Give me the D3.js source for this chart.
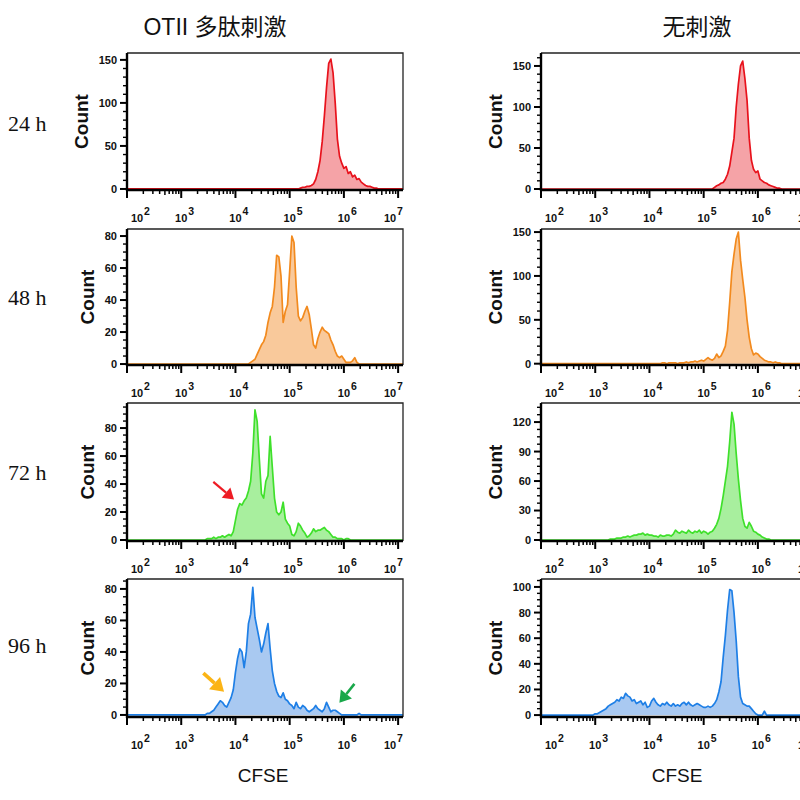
<!DOCTYPE html>
<html><head><meta charset="utf-8">
<script src="https://cdn.jsdelivr.net/npm/d3@7"></script>
<style>body{margin:0;background:#fff}</style>
</head><body><svg id="c" width="800" height="800"></svg>
<script>
// ---------------- DATA ----------------
const columnTitles = ["OTII 多肽刺激", "无刺激"];
const rowLabels = ["24 h", "48 h", "72 h", "96 h"];
const xTickExps = [2, 3, 4, 5, 6, 7];
const xAxisLabel = "CFSE";
const yAxisLabel = "Count";
const BIN = 0.04; // histogram bin width in decades

// left column (OTII peptide) : first bin exponent and counts per bin
const l24Start = 5.16;
const l24 = [0,1,2,2,3,3,4,6,11,20,33,55,85,118,146,151,135,100,58,38,30,24,26,18,20,14,16,11,12,8,6,4,3,3,2,1,1,0];
const l48Start = 4.24;
const l48 = [0,1,2,3,6,9,12,14,18,26,32,36,48,68,67,55,26,33,37,58,80,76,48,30,27,29,33,36,31,22,12,10,16,20,23,21,20,19,15,12,8,5,4,5,3,1,1,1,2,4,1,0];
const l72Start = 3.40;
const l72 = [0,0,1,1,1,2,1,2,2,3,2,3,4,3,6,14,22,26,25,28,30,35,42,62,93,85,58,33,30,42,46,74,52,30,20,18,20,27,15,12,10,4,3,6,12,10,7,5,2,3,5,8,6,7,7,8,9,7,6,4,2,2,1,1,1,0,1,1,0];
const l96Start = 3.44;
const l96 = [0,1,1,2,3,5,7,9,8,6,5,8,11,16,27,36,42,40,30,40,58,64,81,62,55,48,40,45,52,58,42,28,20,15,12,11,14,10,9,7,6,4,8,5,4,6,5,3,2,3,4,6,4,3,2,4,8,5,2,3,3,2,1,0,0,0,0,0,0,0,0,1,0];

// right column (no stimulation)
const r24Start = 5.16;
const r24 = [0,2,4,5,7,8,12,18,28,45,62,100,128,150,156,135,108,62,35,24,20,22,12,10,8,7,5,4,3,2,1,1,0];
const r48Start = 4.20;
const r48 = [0,1,1,0,1,1,1,1,0,1,1,1,2,1,2,2,3,2,3,4,3,5,7,5,4,6,11,7,9,14,20,38,70,105,125,142,150,118,96,76,50,30,17,10,12,11,8,6,4,3,2,2,1,2,1,1,0];
const r72Start = 3.24;
const r72 = [0,1,1,1,2,2,2,3,3,4,3,4,5,5,6,6,7,5,6,5,5,4,4,3,5,4,4,5,5,4,6,10,8,7,9,8,7,10,8,7,9,8,10,7,9,8,6,8,9,12,16,22,32,45,60,75,100,130,118,88,62,40,22,14,12,18,14,9,8,6,5,3,2,1,1,0];
const r96Start = 2.96;
const r96 = [0,1,1,2,3,4,5,7,8,9,10,12,11,14,13,17,15,14,11,12,9,10,11,8,10,6,7,11,13,10,8,7,9,8,10,8,7,9,7,8,7,9,10,8,10,8,7,8,9,8,7,6,6,7,6,7,9,12,18,26,45,62,82,98,97,80,58,30,14,9,8,7,7,5,3,1,0,0,0,3,0];

// y-axis ranges / ticks per panel (rows 24h..96h)
const leftYMax  = [158, 84.4, 97.9, 86.3];
const leftYMin  = [-1.2, -0.6, -0.7, -1.3];
const leftYStep = [50, 20, 20, 20];
const leftYMinorN = [5, 4, 4, 4];
const rightYMax = [165.8, 153.5, 139.4, 106.2];
const rightYMin = [-1.2, -1.5, -1, -1.5];
const rightYStep = [50, 50, 30, 20];
const rightYMinorN = [5, 5, 4, 4];

// arrows: [row, col, tailExp, tailCount, tipExp, tipCount, colour, width]
const arrows = [
  [2, 0, 3.592, 41.6, 3.974, 29.0, "#ee1c24", 2.2],
  [3, 0, 3.408, 26.5, 3.790, 14.8, "#fbb416", 3.6],
  [3, 0, 6.194, 19.7, 5.917, 7.8, "#19a84a", 2.6]
];

const palette = [
  {stroke: "#e8121c", fill: "#f5a3a7"},
  {stroke: "#f28a1e", fill: "#f9c99b"},
  {stroke: "#3fe02b", fill: "#a8ef9e"},
  {stroke: "#1e7fe6", fill: "#a9c9f1"}
];

// ---------------- LAYOUT ----------------
const colX = [127, 541];
const plotW = 276;
const rowTop = [53, 229, 403, 579];
const rowBottom = [190, 365, 541, 717];
const countX = [[81, 87, 87, 87], [495, 495, 495, 495]];
const SANS = "'Liberation Sans', Arial, Helvetica, sans-serif";
const SERIF = "'Liberation Serif', 'Times New Roman', serif";
const CJK = "'Liberation Sans', 'Noto Sans CJK SC', sans-serif";

const svg = d3.select("#c");
const series = [[[l24Start,l24],[l48Start,l48],[l72Start,l72],[l96Start,l96]],
                [[r24Start,r24],[r48Start,r48],[r72Start,r72],[r96Start,r96]]];
const yMaxes = [leftYMax, rightYMax], yMins = [leftYMin, rightYMin],
      ySteps = [leftYStep, rightYStep], yMinorNs = [leftYMinorN, rightYMinorN];
const scales = {};

for (let c = 0; c < 2; c++) {
  for (let r = 0; r < 4; r++) {
    const x0 = colX[c], top = rowTop[r], bottom = rowBottom[r];
    const x = d3.scaleLog().domain([1e2, Math.pow(10, 7.09)]).range([x0, x0 + plotW]);
    const y = d3.scaleLinear().domain([yMins[c][r], yMaxes[c][r]]).range([bottom, top]);
    scales[r + "_" + c] = {x, y};
    const g = svg.append("g");
    const clipId = "clip" + r + "_" + c;
    g.append("clipPath").attr("id", clipId).append("rect")
      .attr("x", x0).attr("y", top).attr("width", plotW).attr("height", bottom - top);

    const [start, counts] = series[c][r];
    const pts = [[2, 0]].concat(counts.map((v, i) => [start + i * BIN, v])).concat([[7.09, 0]]);
    const pal = palette[r];
    const gp = g.append("g").attr("clip-path", `url(#${clipId})`);
    gp.append("path").datum(pts)
      .attr("d", d3.area().x(d => x(Math.pow(10, d[0]))).y0(y(0)).y1(d => y(d[1])))
      .attr("fill", pal.fill);
    gp.append("path").datum(pts)
      .attr("d", d3.line().x(d => x(Math.pow(10, d[0]))).y(d => y(d[1])))
      .attr("fill", "none").attr("stroke", pal.stroke).attr("stroke-width", 1.7)
      .attr("stroke-linejoin", "round");

    // frame top/right
    g.append("path").attr("d", `M${x0},${top}H${x0 + plotW}V${bottom}`)
      .attr("fill", "none").attr("stroke", "#222").attr("stroke-width", 1.3);

    // x axis minor/major ticks
    const ticks = g.append("g");
    for (let e = 2; e <= 7; e++) {
      ticks.append("line").attr("x1", x(Math.pow(10, e))).attr("x2", x(Math.pow(10, e)))
        .attr("y1", bottom).attr("y2", bottom + 8).attr("stroke", "#000").attr("stroke-width", 2);
      if (e < 7) for (let m = 2; m <= 9; m++) {
        const xv = x(m * Math.pow(10, e));
        ticks.append("line").attr("x1", xv).attr("x2", xv)
          .attr("y1", bottom).attr("y2", bottom + (m === 5 ? 5 : 4)).attr("stroke", "#000").attr("stroke-width", 1.5);
      }
    }
    // x tick labels 10^n
    xTickExps.forEach(e => {
      const tx = Math.max(x0 + 10, Math.min(x0 + 263, x(Math.pow(10, e))));
      g.append("text").attr("x", tx).attr("y", bottom + 32)
        .attr("text-anchor", "middle").attr("font-family", SANS).attr("font-weight", "bold")
        .attr("font-size", 11).attr("fill", "#111").text("10");
      g.append("text").attr("x", tx + 7).attr("y", bottom + 25)
        .attr("text-anchor", "start").attr("font-family", SANS).attr("font-weight", "bold")
        .attr("font-size", 10.5).attr("fill", "#111").text(e);
    });

    // y ticks
    const step = ySteps[c][r], minorN = yMinorNs[c][r], ymax = yMaxes[c][r];
    const minorStep = step / minorN;
    for (let k = 0; k * minorStep <= ymax; k++) {
      const v = k * minorStep, major = k % minorN === 0;
      g.append("line").attr("x1", x0).attr("x2", x0 - (major ? 7 : 4))
        .attr("y1", y(v)).attr("y2", y(v)).attr("stroke", "#000").attr("stroke-width", major ? 2 : 1.4);
      if (major) g.append("text").attr("x", x0 - 10).attr("y", y(v)).attr("dy", "0.36em")
        .attr("text-anchor", "end").attr("font-family", SANS).attr("font-weight", "bold")
        .attr("font-size", 11).attr("fill", "#111").text(d3.format("d")(v));
    }
    // axis lines
    g.append("line").attr("x1", x0).attr("x2", x0).attr("y1", top).attr("y2", bottom + 1)
      .attr("stroke", "#000").attr("stroke-width", 2.4);
    g.append("line").attr("x1", x0 - 1).attr("x2", x0 + plotW).attr("y1", bottom).attr("y2", bottom)
      .attr("stroke", "#000").attr("stroke-width", 2.4);

    // Count label
    const cy = (top + bottom) / 2;
    g.append("text").attr("transform", `translate(${countX[c][r] + 7},${cy}) rotate(-90)`)
      .attr("text-anchor", "middle").attr("font-family", SANS).attr("font-weight", "bold")
      .attr("font-size", 19).attr("fill", "#111").text(yAxisLabel);
  }
}

// row labels
const rowLabelY = [131, 305, 480, 653];
rowLabels.forEach((t, r) => {
  svg.append("text").attr("x", 8).attr("y", rowLabelY[r]).attr("font-family", SERIF)
    .attr("font-size", 22).attr("fill", "#111").text(t);
});
// column titles
const titleX = [215, 697];
columnTitles.forEach((t, c) => {
  svg.append("text").attr("x", titleX[c]).attr("y", 35).attr("text-anchor", "middle")
    .attr("font-family", CJK).attr("font-size", 23).attr("fill", "#111").text(t);
});
// x axis titles
colX.forEach(x0 => {
  svg.append("text").attr("x", x0 + plotW / 2 - 2).attr("y", 782).attr("text-anchor", "middle")
    .attr("font-family", SANS).attr("font-size", 19).attr("fill", "#111").text(xAxisLabel);
});

// arrows
arrows.forEach(([r, c, te, tv, he, hv, col, w]) => {
  const s = scales[r + "_" + c];
  const x1 = s.x(Math.pow(10, te)), y1 = s.y(tv), x2 = s.x(Math.pow(10, he)), y2 = s.y(hv);
  const ang = Math.atan2(y2 - y1, x2 - x1);
  const L = 7 + w * 1.6, W = 4 + w * 1.2;
  const bx = x2 - L * Math.cos(ang), by = y2 - L * Math.sin(ang);
  svg.append("line").attr("x1", x1).attr("y1", y1).attr("x2", bx).attr("y2", by)
    .attr("stroke", col).attr("stroke-width", w);
  const px = -Math.sin(ang) * W, py = Math.cos(ang) * W;
  svg.append("path").attr("d", `M${x2},${y2}L${bx + px},${by + py}L${bx - px},${by - py}Z`)
    .attr("fill", col);
});
</script></body></html>
